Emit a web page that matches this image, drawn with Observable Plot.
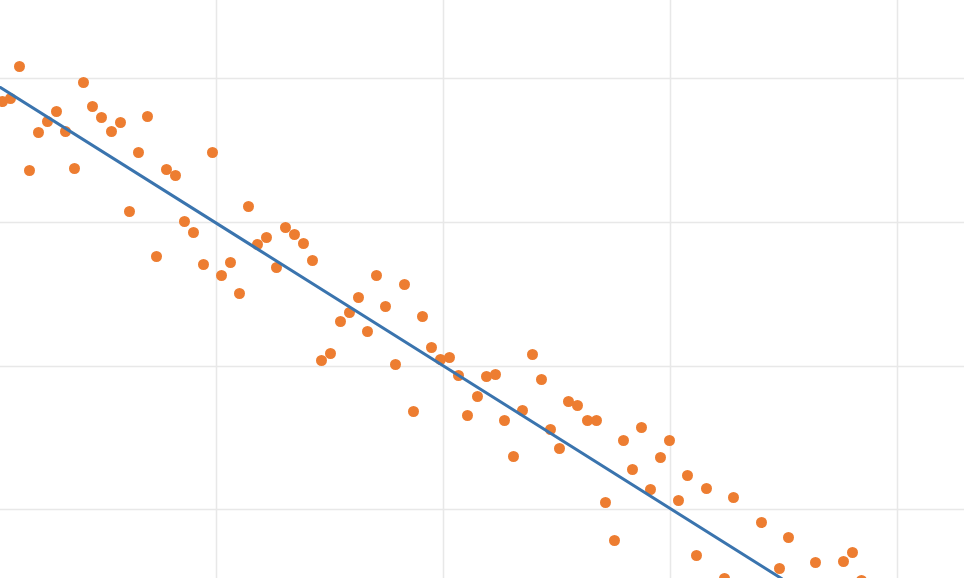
<!DOCTYPE html>
<html><head><meta charset="utf-8">
<script src="https://cdn.jsdelivr.net/npm/d3@7"></script>
<script src="https://cdn.jsdelivr.net/npm/@observablehq/plot@0.6"></script>
<style>body{margin:0;background:#fff}</style>
</head><body><div id="chart"></div>
<script>
// point positions (x, y in the chart's own units)
const xs = [2,10,19,29,38,47,56,65,74,83,92,101,111,120,129,138,147,156,166,175,184,193,203,212,221,230,239,248,257,266,276,285,294,303,312,321,330,340,349,358,367,376,385,395,404,413,422,431,440,449,458,467,477,486,495,504,513,522,532,541,550,559,568,577,587,596,605,614,623,632,641,650,660,669,678,687,696,706,724,733,761,779,788,815,843,852,861];
const ys = [101,98,66,170,132,121,111,131,168,82,106,117,131,122,211,152,116,256,169,175,221,232,264,152,275,262,293,206,244,237,267,227,234,243,260,360,353,321,312,297,331,275,306,364,284,411,316,347,359,357,375,415,396,376,374,420,456,410,354,379,429,448,401,405,420,420,502,540,440,469,427,489,457,440,500,475,555,488,578,497,522,568,537,562,561,552,580];
const fitX = [0, 781];
const fitY = [87, 578];
const gridX = [216, 443, 670, 897];
const gridY = [78, 222, 366, 509];

const pts = xs.map((x, i) => ({x, y: ys[i]}));
const fit = fitX.map((x, i) => ({x, y: fitY[i]}));

const plot = Plot.plot({
  width: 964, height: 578,
  margin: 0,
  x: {domain: [0, 964], axis: null},
  y: {domain: [578, 0], axis: null},
  marks: [
    Plot.ruleX(gridX, {stroke: "#e8e8e8", strokeWidth: 1.5}),
    Plot.ruleY(gridY, {stroke: "#e8e8e8", strokeWidth: 1.5}),
    Plot.dot(pts, {x: "x", y: "y", r: 5.5, fill: "#ED7D31"}),
    Plot.line(fit, {x: "x", y: "y", stroke: "#3A74AE", strokeWidth: 3})
  ]
});
document.getElementById("chart").appendChild(plot);
</script></body></html>
